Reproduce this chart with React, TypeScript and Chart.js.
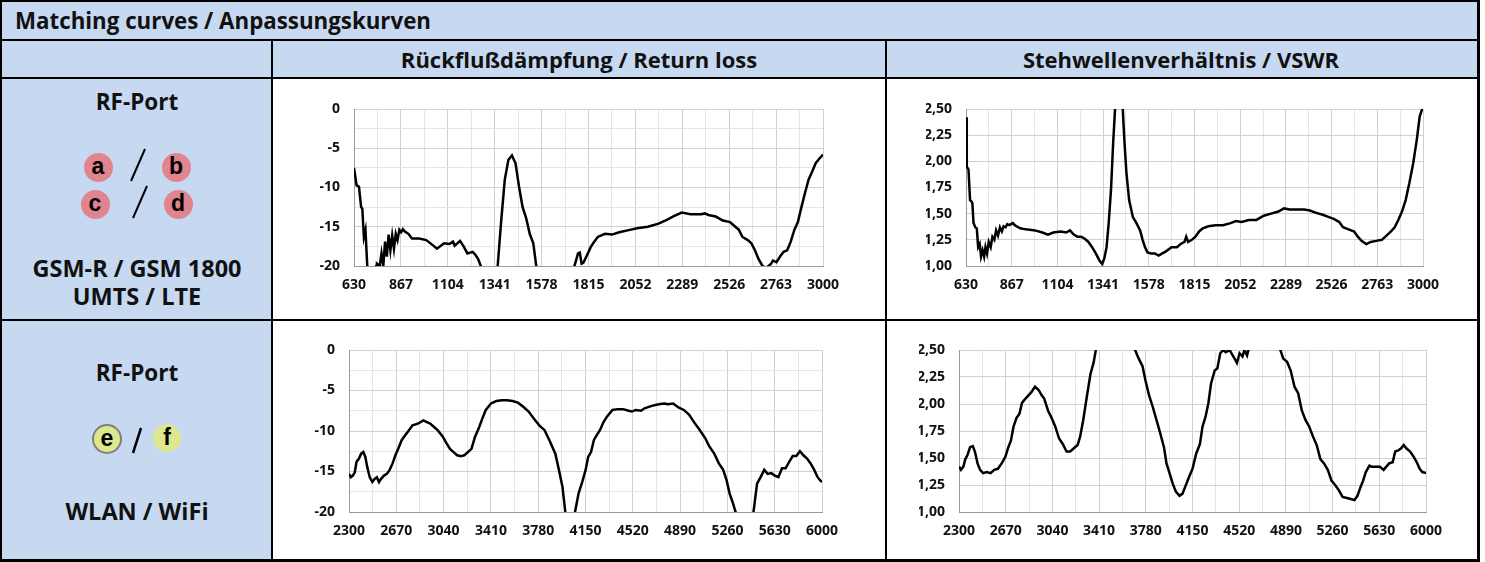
import React, { useEffect, useRef } from "react";
import { Chart, registerables } from "chart.js";
Chart.register(...registerables);

// ---------- axis ticks ----------
const topFreqTicks = [630, 867, 1104, 1341, 1578, 1815, 2052, 2289, 2526, 2763, 3000];
const botFreqTicks = [2300, 2670, 3040, 3410, 3780, 4150, 4520, 4890, 5260, 5630, 6000];
const rlGridTicks = [-20, -17.5, -15, -12.5, -10, -7.5, -5, -2.5, 0];
const rlLabelTicks = [-20, -15, -10, -5, 0];
const vswrGridTicks = [1.0, 1.25, 1.5, 1.75, 2.0, 2.25, 2.5];
const vswrLabelTicks = [1.0, 1.25, 1.5, 1.75, 2.0, 2.25, 2.5];

// ---------- GSM-R / GSM 1800 / UMTS / LTE : return loss ----------
const rlTopFreq = [630, 643, 655, 666, 672, 680, 688, 697, 705, 735, 742, 746, 760, 769, 778, 787, 796, 805, 814, 823, 832, 841, 850, 859, 868, 877, 887, 905, 923, 959, 995, 1031, 1049, 1085, 1112, 1130, 1139, 1166, 1184, 1203, 1230, 1244, 1257, 1271, 1280, 1345, 1356, 1374, 1392, 1410, 1428, 1446, 1464, 1482, 1500, 1518, 1536, 1551, 1560, 1735, 1744, 1762, 1771, 1780, 1789, 1808, 1826, 1844, 1862, 1898, 1934, 1970, 2024, 2060, 2115, 2169, 2205, 2241, 2286, 2331, 2385, 2403, 2421, 2458, 2494, 2530, 2557, 2575, 2593, 2620, 2638, 2656, 2674, 2692, 2710, 2738, 2747, 2765, 2783, 2801, 2819, 2837, 2855, 2873, 2891, 2909, 2927, 2945, 2963, 2982, 3000];
const rlTopDb = [-7.5, -9.7, -9.9, -12.5, -12.7, -16.3, -15.4, -20, -30, -30, -20, -19.7, -20, -18.4, -20, -16.9, -18.8, -16.0, -18.0, -16.1, -17.8, -15.9, -16.7, -15.4, -15.7, -15.3, -15.6, -15.9, -16.5, -16.5, -16.7, -17.4, -17.8, -17.1, -17.2, -16.9, -17.4, -16.8, -17.5, -18.4, -18.2, -18.6, -19.1, -20, -30, -30, -20, -14.2, -9.0, -6.5, -5.9, -6.9, -9.9, -12.5, -13.9, -15.9, -17.1, -20, -30, -30, -20, -18.4, -18.3, -19.7, -19.6, -18.6, -17.6, -16.9, -16.3, -15.9, -16.0, -15.7, -15.4, -15.2, -15.0, -14.6, -14.2, -13.7, -13.2, -13.4, -13.4, -13.3, -13.5, -13.7, -14.2, -14.4, -15.0, -15.4, -16.3, -16.7, -17.1, -18.0, -19.1, -19.9, -20.3, -19.7, -19.3, -19.5, -18.8, -18.2, -18.0, -16.9, -15.4, -14.4, -12.5, -10.7, -9.0, -8.0, -6.9, -6.3, -5.8];

// ---------- GSM-R / GSM 1800 / UMTS / LTE : VSWR ----------
const vswrTopFreq = [630, 634, 643, 651, 657, 663, 669, 678, 686, 693, 701, 708, 716, 724, 731, 739, 748, 758, 767, 777, 786, 796, 806, 816, 825, 835, 844, 854, 873, 883, 892, 911, 940, 988, 1026, 1055, 1083, 1122, 1150, 1169, 1189, 1208, 1227, 1246, 1265, 1284, 1303, 1323, 1336, 1347, 1359, 1370, 1382, 1393, 1403, 1412, 1434, 1443, 1451, 1462, 1476, 1495, 1514, 1533, 1546, 1558, 1571, 1590, 1609, 1629, 1648, 1667, 1696, 1724, 1743, 1763, 1772, 1782, 1801, 1820, 1839, 1858, 1887, 1925, 1963, 2002, 2030, 2059, 2097, 2136, 2174, 2212, 2250, 2279, 2308, 2346, 2384, 2413, 2442, 2480, 2509, 2537, 2566, 2585, 2614, 2643, 2662, 2681, 2706, 2729, 2758, 2786, 2805, 2834, 2853, 2872, 2891, 2910, 2929, 2949, 2968, 2983, 2996, 3000];
const vswrTopVal = [2.42, 1.95, 1.92, 1.63, 1.62, 1.60, 1.41, 1.37, 1.36, 1.18, 1.21, 1.09, 1.15, 1.09, 1.18, 1.12, 1.23, 1.18, 1.28, 1.25, 1.34, 1.29, 1.37, 1.33, 1.38, 1.37, 1.40, 1.39, 1.41, 1.39, 1.38, 1.36, 1.35, 1.34, 1.32, 1.30, 1.32, 1.33, 1.32, 1.34, 1.30, 1.28, 1.28, 1.26, 1.23, 1.18, 1.12, 1.05, 1.02, 1.07, 1.18, 1.41, 1.73, 2.17, 2.50, 3.20, 3.20, 2.50, 2.21, 1.89, 1.63, 1.47, 1.41, 1.34, 1.25, 1.18, 1.13, 1.12, 1.12, 1.10, 1.12, 1.14, 1.18, 1.18, 1.21, 1.23, 1.28, 1.23, 1.25, 1.28, 1.33, 1.36, 1.38, 1.39, 1.39, 1.41, 1.43, 1.42, 1.44, 1.44, 1.48, 1.50, 1.52, 1.55, 1.54, 1.54, 1.54, 1.53, 1.51, 1.49, 1.47, 1.45, 1.42, 1.37, 1.35, 1.33, 1.28, 1.24, 1.21, 1.23, 1.24, 1.25, 1.28, 1.33, 1.37, 1.44, 1.52, 1.63, 1.79, 1.98, 2.21, 2.43, 2.50, 2.60];

// ---------- WLAN / WiFi : return loss ----------
const rlBotFreq = [2300, 2314, 2330, 2345, 2359, 2378, 2395, 2412, 2428, 2442, 2462, 2482, 2501, 2518, 2535, 2551, 2574, 2596, 2618, 2641, 2663, 2685, 2713, 2741, 2769, 2797, 2839, 2881, 2909, 2937, 2965, 2993, 3034, 3062, 3090, 3118, 3146, 3174, 3202, 3230, 3258, 3286, 3314, 3342, 3370, 3411, 3453, 3495, 3537, 3579, 3621, 3663, 3705, 3747, 3788, 3830, 3872, 3914, 3942, 3970, 3992, 4000, 4060, 4068, 4096, 4124, 4151, 4171, 4193, 4216, 4238, 4263, 4291, 4319, 4361, 4403, 4445, 4487, 4514, 4542, 4584, 4612, 4668, 4724, 4766, 4794, 4836, 4877, 4919, 4961, 5003, 5045, 5087, 5115, 5157, 5193, 5227, 5254, 5277, 5305, 5324, 5335, 5455, 5464, 5492, 5520, 5548, 5575, 5603, 5631, 5659, 5687, 5715, 5743, 5771, 5799, 5827, 5855, 5883, 5911, 5939, 5966, 5986, 6000];
const rlBotDb = [-15.3, -15.7, -15.5, -15.1, -13.8, -13.4, -12.8, -12.6, -13.2, -14.4, -15.7, -16.3, -15.9, -15.7, -16.3, -15.9, -15.5, -15.3, -14.8, -14.0, -13.0, -12.2, -11.1, -10.5, -9.9, -9.3, -9.1, -8.7, -8.9, -9.1, -9.5, -9.9, -10.7, -11.5, -12.2, -12.6, -13.0, -13.1, -13.0, -12.6, -12.2, -10.7, -9.7, -8.5, -7.4, -6.6, -6.3, -6.2, -6.2, -6.3, -6.5, -7.0, -7.6, -8.5, -9.3, -9.9, -11.3, -12.8, -14.8, -16.9, -20, -30, -30, -20, -17.7, -16.3, -14.8, -13.2, -12.6, -11.1, -10.5, -9.9, -8.9, -8.2, -7.4, -7.3, -7.3, -7.5, -7.6, -7.4, -7.5, -7.2, -6.9, -6.7, -6.6, -6.7, -6.6, -7.1, -7.4, -8.0, -9.0, -9.9, -10.9, -11.8, -12.8, -14.0, -14.8, -16.1, -17.7, -19.0, -20, -30, -30, -20, -16.5, -15.7, -14.8, -15.3, -15.2, -15.5, -15.7, -14.6, -14.6, -13.8, -13.1, -13.1, -12.5, -13.0, -13.4, -14.0, -14.8, -15.7, -16.1, -16.3];

// ---------- WLAN / WiFi : VSWR ----------
const vswrBotFreq = [2300, 2315, 2335, 2350, 2368, 2388, 2409, 2426, 2447, 2467, 2491, 2520, 2550, 2579, 2608, 2638, 2667, 2691, 2711, 2732, 2755, 2779, 2799, 2820, 2843, 2873, 2902, 2931, 2955, 2975, 3005, 3034, 3063, 3093, 3122, 3152, 3181, 3210, 3240, 3260, 3284, 3313, 3342, 3366, 3384, 3400, 3680, 3695, 3724, 3754, 3777, 3806, 3836, 3865, 3894, 3924, 3944, 3968, 3994, 4018, 4047, 4071, 4091, 4121, 4150, 4179, 4209, 4229, 4253, 4276, 4297, 4326, 4347, 4370, 4394, 4414, 4444, 4458, 4488, 4502, 4523, 4546, 4561, 4582, 4593, 4605, 4835, 4846, 4869, 4899, 4928, 4958, 4987, 5016, 5046, 5075, 5104, 5134, 5163, 5192, 5222, 5251, 5280, 5310, 5339, 5374, 5404, 5433, 5457, 5481, 5502, 5523, 5552, 5570, 5605, 5634, 5664, 5686, 5708, 5736, 5756, 5780, 5803, 5824, 5844, 5874, 5903, 5927, 5950, 5971, 6000];
const vswrBotVal = [1.42, 1.39, 1.42, 1.49, 1.53, 1.60, 1.61, 1.56, 1.45, 1.39, 1.36, 1.37, 1.36, 1.39, 1.40, 1.45, 1.51, 1.60, 1.66, 1.79, 1.87, 1.91, 2.01, 2.04, 2.07, 2.11, 2.16, 2.13, 2.08, 2.05, 1.94, 1.87, 1.79, 1.68, 1.63, 1.56, 1.56, 1.59, 1.62, 1.70, 1.85, 2.07, 2.28, 2.38, 2.50, 3.00, 3.00, 2.50, 2.42, 2.35, 2.22, 2.08, 1.97, 1.85, 1.73, 1.60, 1.45, 1.36, 1.26, 1.19, 1.15, 1.17, 1.23, 1.32, 1.40, 1.54, 1.63, 1.79, 1.88, 2.01, 2.19, 2.31, 2.33, 2.47, 2.50, 2.48, 2.50, 2.47, 2.41, 2.38, 2.47, 2.44, 2.50, 2.45, 2.50, 3.00, 3.00, 2.50, 2.42, 2.39, 2.31, 2.16, 2.10, 1.94, 1.85, 1.79, 1.70, 1.62, 1.49, 1.45, 1.39, 1.29, 1.25, 1.20, 1.14, 1.13, 1.12, 1.11, 1.15, 1.23, 1.29, 1.37, 1.43, 1.42, 1.42, 1.42, 1.39, 1.42, 1.45, 1.46, 1.56, 1.57, 1.59, 1.62, 1.59, 1.56, 1.51, 1.46, 1.40, 1.37, 1.36];

// ---------- styling ----------
const BLUE = "#C6D9F1";
const FONT = "'Open Sans', 'Noto Sans', sans-serif";
const TICK_FONT = "'Open Sans', 'Noto Sans', sans-serif";
const GRID_MAJOR = "#d0d0d0";
const GRID_MINOR = "#e6e6e6";
const AXIS = "#9a9a9a";

type Box = { left: number; top: number; width: number; height: number };
type Pad = { left: number; top: number; right: number; bottom: number };

type Props = {
  freq: number[];
  vals: number[];
  xTicks: number[];
  yTicks: number[];
  yLabels: number[];
  fmt: (v: number) => string;
  box: Box;
  pad: Pad;
};

function LineChart({ freq, vals, xTicks, yTicks, yLabels, fmt, box, pad }: Props) {
  const ref = useRef<HTMLCanvasElement | null>(null);
  useEffect(() => {
    if (!ref.current) return;
    const xAll: number[] = [];
    xTicks.forEach((v, i) => {
      xAll.push(v);
      if (i < xTicks.length - 1) xAll.push((v + xTicks[i + 1]) / 2);
    });
    const tickFont = { family: TICK_FONT, size: 14, weight: "bold" as const };
    const chart = new Chart(ref.current, {
      type: "line",
      data: {
        datasets: [
          {
            data: freq.map((f, i) => ({ x: f, y: vals[i] })),
            borderColor: "#000000",
            borderWidth: 2.5,
            pointRadius: 0,
            tension: 0,
            fill: false,
            clip: 0,
          },
        ],
      },
      options: {
        animation: false,
        responsive: false,
        maintainAspectRatio: false,
        events: [],
        layout: { padding: pad },
        plugins: { legend: { display: false }, tooltip: { enabled: false }, title: { display: false } },
        scales: {
          x: {
            type: "linear",
            min: xTicks[0],
            max: xTicks[xTicks.length - 1],
            afterBuildTicks: (s: any) => {
              s.ticks = xAll.map((v) => ({ value: v }));
            },
            afterFit: (s: any) => {
              s.height = 30;
            },
            grid: {
              drawTicks: false,
              lineWidth: 1,
              color: (c: any) => (c.tick && xTicks.includes(c.tick.value) ? GRID_MAJOR : GRID_MINOR),
            },
            border: { display: true, color: AXIS, width: 1 },
            ticks: {
              autoSkip: false,
              maxRotation: 0,
              minRotation: 0,
              padding: 11,
              color: "#111111",
              font: tickFont,
              callback: (v: any) => (xTicks.includes(Number(v)) ? String(v) : ""),
            },
          },
          y: {
            type: "linear",
            min: yTicks[0],
            max: yTicks[yTicks.length - 1],
            afterBuildTicks: (s: any) => {
              s.ticks = yTicks.map((v) => ({ value: v }));
            },
            afterFit: (s: any) => {
              s.width = 40;
            },
            grid: {
              drawTicks: false,
              lineWidth: 1,
              color: (c: any) => (c.tick && yLabels.includes(c.tick.value) ? GRID_MAJOR : GRID_MINOR),
            },
            border: { display: true, color: AXIS, width: 1 },
            ticks: {
              autoSkip: false,
              padding: 14,
              color: "#111111",
              font: tickFont,
              callback: (v: any) => (yLabels.includes(Number(v)) ? fmt(Number(v)) : ""),
            },
          },
        },
      },
    } as any);
    return () => chart.destroy();
  }, []);
  return (
    <canvas
      ref={ref}
      width={box.width}
      height={box.height}
      style={{ position: "absolute", left: box.left, top: box.top, width: box.width, height: box.height }}
    />
  );
}

const abs = (left: number, top: number, width: number, height: number, extra: React.CSSProperties = {}): React.CSSProperties => ({
  position: "absolute",
  left,
  top,
  width,
  height,
  ...extra,
});

function Label({ text, cx, cy, size = 22, weight = 700 }: { text: string; cx: number; cy: number; size?: number; weight?: number }) {
  return (
    <div
      style={abs(cx - 200, cy - 20, 400, 40, {
        display: "flex",
        alignItems: "center",
        justifyContent: "center",
        fontFamily: FONT,
        fontWeight: weight,
        fontSize: size,
        color: "#111",
        whiteSpace: "nowrap",
      })}
    >
      {text}
    </div>
  );
}

function Dot({ letter, cx, cy, d, bg, border }: { letter: string; cx: number; cy: number; d: number; bg: string; border?: string }) {
  return (
    <div
      style={abs(cx - d / 2, cy - d / 2, d, d, {
        borderRadius: "50%",
        background: bg,
        boxSizing: "border-box",
        border: border ? `2px solid ${border}` : "none",
        display: "flex",
        alignItems: "center",
        justifyContent: "center",
        fontFamily: "'Liberation Sans', Arial, sans-serif",
        fontWeight: 700,
        fontSize: 23,
        color: "#000",
        lineHeight: 1,
      })}
    >
      <span style={{ marginTop: -2 }}>{letter}</span>
    </div>
  );
}

const fmtDb = (v: number) => String(v);
const fmtVswr = (v: number) => v.toFixed(2).replace(".", ",");

export default function App() {
  const PINK = "#E0858F";
  const YEL = "#DDE78E";
  return (
    <div style={abs(0, 0, 1485, 562, { position: "fixed", background: "#fff", overflow: "hidden" })}>
      {/* backgrounds */}
      <div style={abs(2, 2, 1475, 37, { background: BLUE })} />
      <div style={abs(2, 41, 1475, 36, { background: BLUE })} />
      <div style={abs(2, 79, 269, 480, { background: BLUE })} />

      {/* lines */}
      <div style={abs(0, 0, 1480, 2, { background: "#000" })} />
      <div style={abs(0, 39, 1480, 2, { background: "#000" })} />
      <div style={abs(0, 77, 1480, 2, { background: "#000" })} />
      <div style={abs(0, 319, 1480, 2, { background: "#000" })} />
      <div style={abs(0, 559, 1480, 3, { background: "#000" })} />
      <div style={abs(0, 0, 2, 562, { background: "#000" })} />
      <div style={abs(271, 39, 2, 523, { background: "#000" })} />
      <div style={abs(885, 39, 2, 523, { background: "#000" })} />
      <div style={abs(1477, 0, 3, 562, { background: "#000" })} />

      {/* header texts */}
      <div
        style={abs(15, 2, 800, 37, {
          display: "flex",
          alignItems: "center",
          fontFamily: FONT,
          fontWeight: 700,
          fontSize: 22.3,
          color: "#111",
          whiteSpace: "nowrap",
        })}
      >
        Matching curves / Anpassungskurven
      </div>
      <Label text="Rückflußdämpfung / Return loss" cx={579} cy={59} size={22} />
      <Label text="Stehwellenverhältnis / VSWR" cx={1181} cy={59} size={22} />

      {/* left column, row 1 */}
      <Label text="RF-Port" cx={137} cy={101} size={22.5} />
      <Dot letter="a" cx={98} cy={167} d={29} bg={PINK} />
      <Dot letter="b" cx={176} cy={167} d={29} bg={PINK} />
      <Dot letter="c" cx={95} cy={204} d={29} bg={PINK} />
      <Dot letter="d" cx={178} cy={204} d={29} bg={PINK} />
      <svg style={abs(0, 0, 280, 562)} width={280} height={562}>
        <line x1={131} y1={181} x2={145} y2={149} stroke="#000" strokeWidth={2} />
        <line x1={133} y1={218} x2={147} y2={186} stroke="#000" strokeWidth={2} />
        <line x1={133} y1={453} x2={141} y2={428} stroke="#000" strokeWidth={2.5} />
      </svg>
      <Label text="GSM-R / GSM 1800" cx={137} cy={268} size={23.5} />
      <Label text="UMTS / LTE" cx={137} cy={296} size={23.5} />

      {/* left column, row 2 */}
      <Label text="RF-Port" cx={137} cy={372} size={22.5} />
      <Dot letter="e" cx={107} cy={439} d={30} bg={YEL} border="#7f7f7f" />
      <Dot letter="f" cx={167} cy={438} d={28} bg={YEL} />
      <Label text="WLAN / WiFi" cx={137} cy={511} size={23.5} />

      {/* charts */}
      <LineChart
        freq={rlTopFreq}
        vals={rlTopDb}
        xTicks={topFreqTicks}
        yTicks={rlGridTicks}
        yLabels={rlLabelTicks}
        fmt={fmtDb}
        box={{ left: 273, top: 79, width: 612, height: 240 }}
        pad={{ left: 41, top: 30, right: 62, bottom: 23 }}
      />
      <LineChart
        freq={vswrTopFreq}
        vals={vswrTopVal}
        xTicks={topFreqTicks}
        yTicks={vswrGridTicks}
        yLabels={vswrLabelTicks}
        fmt={fmtVswr}
        box={{ left: 887, top: 79, width: 590, height: 240 }}
        pad={{ left: 39, top: 30, right: 54, bottom: 23 }}
      />
      <LineChart
        freq={rlBotFreq}
        vals={rlBotDb}
        xTicks={botFreqTicks}
        yTicks={rlGridTicks}
        yLabels={rlLabelTicks}
        fmt={fmtDb}
        box={{ left: 273, top: 321, width: 612, height: 238 }}
        pad={{ left: 36, top: 29, right: 63, bottom: 17 }}
      />
      <LineChart
        freq={vswrBotFreq}
        vals={vswrBotVal}
        xTicks={botFreqTicks}
        yTicks={vswrGridTicks}
        yLabels={vswrLabelTicks}
        fmt={fmtVswr}
        box={{ left: 887, top: 321, width: 590, height: 238 }}
        pad={{ left: 32, top: 29, right: 51, bottom: 17 }}
      />
    </div>
  );
}
